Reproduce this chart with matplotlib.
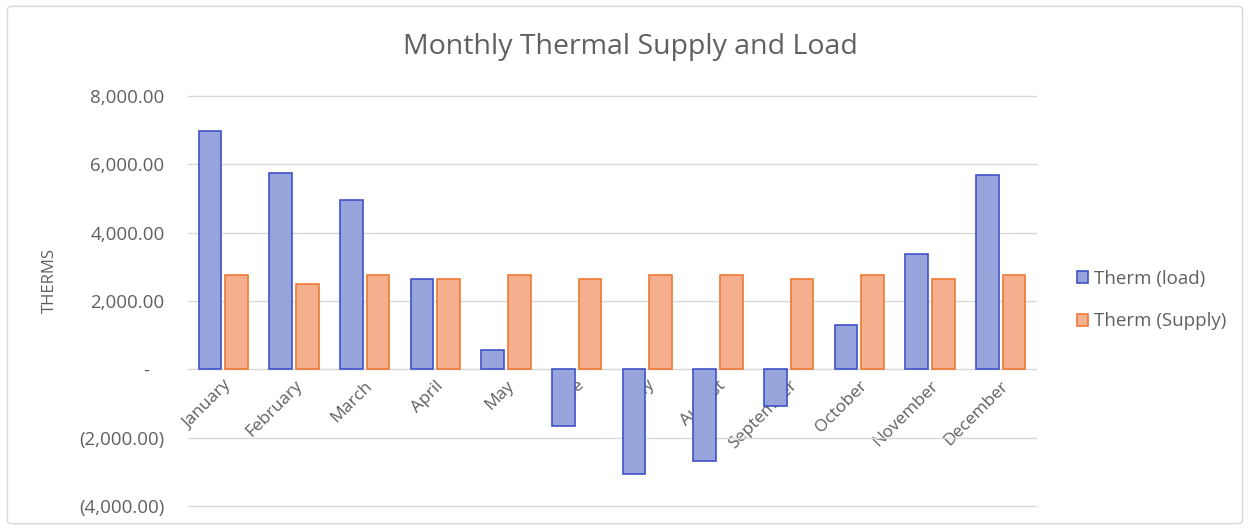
import matplotlib
matplotlib.use("Agg")
import matplotlib.pyplot as plt
from matplotlib.patches import FancyBboxPatch
from matplotlib.ticker import FuncFormatter
import numpy as np

months = ["January", "February", "March", "April", "May", "June", "July",
          "August", "September", "October", "November", "December"]
therm_load = [6970, 5750, 4960, 2630, 560, -1660, -3070, -2690, -1070, 1290, 3380, 5700]
therm_supply = [2750, 2490, 2750, 2640, 2750, 2640, 2750, 2750, 2640, 2750, 2640, 2750]
y_ticks = [-4000, -2000, 0, 2000, 4000, 6000, 8000]

plt.rcParams['font.family'] = ['Open Sans', 'DejaVu Sans']
grey = '#606060'

def acct(v, pos=None):
    # excel accounting style
    if abs(v) < 1e-9:
        return "-   "
    if v < 0:
        return "({:,.2f})".format(-v)
    return "{:,.2f}".format(v)

fig = plt.figure(figsize=(12.5, 5.29), dpi=100)
ax = fig.add_axes([188/1250, 1-506/529, (1036-188)/1250, (506-96)/529])

x = np.arange(len(months))
w = 0.32
ax.bar(x - 0.19, therm_load, w, color='#97A5DC', edgecolor='#3F52C9', linewidth=1.2,
       label='Therm (load)', zorder=3)
ax.bar(x + 0.19, therm_supply, w, color='#F5AE8E', edgecolor='#EE7A33', linewidth=1.2,
       label='Therm (Supply)', zorder=3)

ax.set_xlim(-0.5, 11.5)
ax.set_ylim(-4000, 8000)
ax.set_yticks(y_ticks)
ax.yaxis.set_major_formatter(FuncFormatter(acct))
ax.grid(axis='y', color='#D9D9D9', linewidth=1, zorder=0)
for gl in ax.get_ygridlines():
    gl.set_clip_on(False)

for s in ['top', 'right', 'left']:
    ax.spines[s].set_visible(False)
ax.spines['bottom'].set_position(('data', 0))
ax.spines['bottom'].set_color('#D9D9D9')
ax.spines['bottom'].set_zorder(2)

ax.set_xticks(x)
ax.set_xticklabels(months, rotation=45, ha='right', va='top', rotation_mode='anchor')
ax.tick_params(axis='x', length=0, pad=6, labelsize=12.5, labelcolor=grey)
ax.tick_params(axis='y', length=0, pad=17, labelsize=13.5, labelcolor=grey)

ax.set_ylabel('THERMS', fontsize=12, color=grey)
ax.yaxis.set_label_coords(-0.153, 0.55)

fig.text(630/1250, 1-47/529, 'Monthly Thermal Supply and Load', ha='center', va='center',
         fontsize=20.5, color=grey)

fig.legend(loc='center left', bbox_to_anchor=(1060/1250, 1-300/529), frameon=False,
           fontsize=13.5, labelcolor=grey, handlelength=0.6, handleheight=0.6,
           handletextpad=0.3, labelspacing=1.3)

border = FancyBboxPatch((0.006, 0.01), 0.988, 0.978, boxstyle='round,pad=0,rounding_size=0.005',
                        transform=fig.transFigure, facecolor='none', edgecolor='#D9D9D9',
                        linewidth=1)
fig.patches.append(border)

fig.savefig('out.png', dpi=100)
